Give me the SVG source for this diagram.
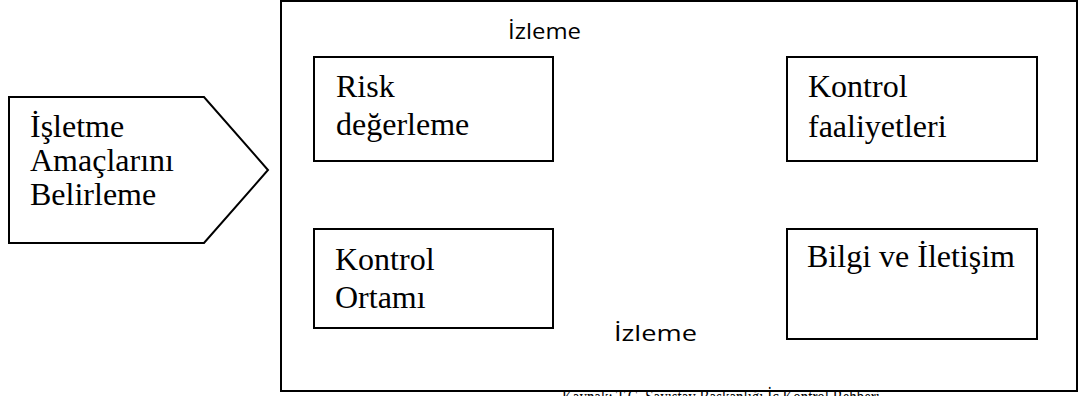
<svg xmlns="http://www.w3.org/2000/svg" width="1080" height="396" viewBox="0 0 1080 396">
<style>
.box{fill:#fff;stroke:#000;stroke-width:2}
.serif{font-family:"Liberation Serif","Times New Roman",serif;font-size:32px;fill:#000}
.sans{font-family:"Open Sans","Liberation Sans",sans-serif;font-size:21px;fill:#000}
</style>
<rect width="1080" height="396" fill="#fff"/>
<g id="frame">
<rect class="box" x="281" y="1" width="796" height="390"/>
</g>
<g id="source">
<text x="562" y="404" style="font-family:'Liberation Serif',serif;font-size:21px" textLength="318" lengthAdjust="spacingAndGlyphs">Kaynak: T.C. Sayıştay Başkanlığı İç Kontrol Rehberi</text>
</g>
<g id="amaclar">
<polygon class="box" points="9,97 204,97 268,170 204,243 9,243" stroke-width="1.8"/>
<text class="serif" x="30" y="137">İşletme</text>
<text class="serif" x="30" y="171">Amaçlarını</text>
<text class="serif" x="30" y="205">Belirleme</text>
</g>
<g id="izleme-top">
<text class="sans" x="508" y="39" textLength="73" lengthAdjust="spacingAndGlyphs">İzleme</text>
</g>
<g id="risk">
<rect class="box" x="314" y="57" width="239" height="104"/>
<text class="serif" x="336" y="97">Risk</text>
<text class="serif" x="336" y="135">değerleme</text>
</g>
<g id="faaliyetler">
<rect class="box" x="787" y="57" width="250" height="104"/>
<text class="serif" x="808" y="97">Kontrol</text>
<text class="serif" x="808" y="137">faaliyetleri</text>
</g>
<g id="ortam">
<rect class="box" x="314" y="229" width="239" height="99"/>
<text class="serif" x="335" y="270">Kontrol</text>
<text class="serif" x="335" y="308">Ortamı</text>
</g>
<g id="bilgi">
<rect class="box" x="787" y="229" width="250" height="110"/>
<text class="serif" x="807" y="267">Bilgi ve İletişim</text>
</g>
<g id="izleme-bottom">
<text class="sans" x="614" y="341" textLength="83" lengthAdjust="spacingAndGlyphs">İzleme</text>
</g>
<g id="connectors"></g>
</svg>
